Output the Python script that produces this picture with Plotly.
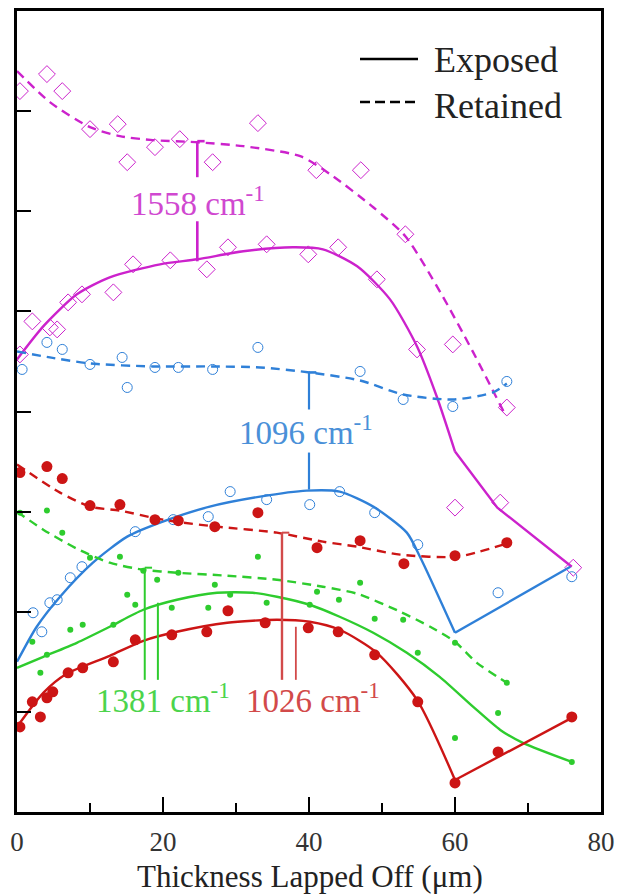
import plotly.graph_objects as go

# ---------------- data ----------------
# 1558 cm-1 (magenta, open diamonds)
mag_exp_x = [0.4, 2.1, 4.5, 5.5, 7.0, 8.9, 13.2, 15.9, 21.0, 26.0, 28.9, 34.2, 39.9, 44.0, 49.3, 54.8, 60.0, 66.2, 76.2]
mag_exp_y = [4.57, 4.90, 4.84, 4.82, 5.09, 5.17, 5.19, 5.47, 5.51, 5.42, 5.64, 5.67, 5.57, 5.64, 5.32, 4.62, 3.04, 3.09, 2.44]
mag_ret_x = [0.4, 4.1, 6.2, 10.0, 13.8, 15.1, 18.9, 22.3, 26.8, 33.0, 41.0, 47.1, 53.2, 59.7, 67.1]
mag_ret_y = [7.20, 7.37, 7.20, 6.82, 6.87, 6.49, 6.64, 6.72, 6.49, 6.88, 6.41, 6.41, 5.77, 4.67, 4.04]
mag_exp_fit_x = [0, 3.6, 8.2, 12.7, 19.6, 24.7, 31.0, 37.8, 41.9, 46.6, 51.1, 54.8, 57.5, 60.0]
mag_exp_fit_y = [4.52, 4.85, 5.17, 5.34, 5.47, 5.52, 5.60, 5.64, 5.62, 5.45, 5.12, 4.65, 4.15, 3.60]
mag_exp_tail_x = [60.0, 65.8, 76.0]
mag_exp_tail_y = [3.60, 3.04, 2.45]
mag_ret_fit_x = [0, 4.5, 10.0, 14.1, 18.6, 24.4, 31.0, 38.8, 42.9, 48.8, 53.2, 58.0, 62.5, 67.0]
mag_ret_fit_y = [7.40, 7.09, 6.84, 6.75, 6.71, 6.69, 6.65, 6.55, 6.37, 6.04, 5.75, 5.19, 4.59, 3.95]

# 1096 cm-1 (blue, open circles)
blu_exp_x = [2.2, 3.4, 4.5, 5.5, 7.3, 8.9, 16.2, 21.4, 26.2, 29.2, 34.2, 40.1, 44.2, 49.0, 54.9, 65.9, 76.0]
blu_exp_y = [1.99, 1.80, 2.09, 2.12, 2.34, 2.45, 2.80, 2.92, 2.95, 3.20, 3.12, 3.07, 3.20, 2.99, 2.67, 2.19, 2.35]
blu_ret_x = [0.7, 4.1, 6.2, 10.0, 14.4, 15.1, 18.9, 22.1, 26.8, 33.0, 47.0, 52.9, 59.7, 67.1]
blu_ret_y = [4.42, 4.69, 4.62, 4.47, 4.54, 4.24, 4.44, 4.44, 4.42, 4.64, 4.40, 4.12, 4.05, 4.30]
blu_exp_fit_x = [0, 2.7, 5.9, 10.4, 15.1, 19.6, 26.4, 33.3, 39.7, 44.2, 48.8, 53.4, 55.2, 60.0]
blu_exp_fit_y = [1.50, 1.85, 2.15, 2.49, 2.75, 2.89, 3.05, 3.15, 3.21, 3.20, 3.05, 2.79, 2.55, 1.79]
blu_exp_tail_x = [60.0, 75.8]
blu_exp_tail_y = [1.79, 2.45]
blu_ret_fit_x = [0, 4.5, 10.0, 18.6, 26.8, 33.3, 40.1, 47.0, 52.9, 59.7, 65.2, 67.1]
blu_ret_fit_y = [4.60, 4.54, 4.48, 4.45, 4.45, 4.44, 4.39, 4.31, 4.17, 4.12, 4.19, 4.28]

# 1026 cm-1 (red, filled circles)
red_exp_x = [0.4, 2.1, 3.2, 4.1, 4.9, 7.0, 9.0, 13.2, 16.2, 21.2, 26.0, 28.9, 34.0, 39.9, 44.0, 49.0, 54.9, 60.0, 65.9, 76.0]
red_exp_y = [0.85, 1.10, 0.95, 1.14, 1.20, 1.39, 1.44, 1.50, 1.72, 1.77, 1.80, 2.01, 1.89, 1.84, 1.80, 1.57, 1.10, 0.29, 0.60, 0.95]
red_ret_x = [0.4, 4.1, 6.2, 10.0, 14.1, 18.9, 22.1, 27.1, 33.0, 41.1, 47.0, 53.0, 60.0, 67.1]
red_ret_y = [3.39, 3.45, 3.33, 3.06, 3.07, 2.92, 2.91, 2.85, 2.99, 2.64, 2.71, 2.48, 2.56, 2.69]
red_exp_fit_x = [0, 3.6, 6.8, 12.7, 17.3, 21.9, 28.8, 35.6, 40.1, 44.2, 49.3, 54.8, 60.0]
red_exp_fit_y = [0.85, 1.19, 1.38, 1.56, 1.71, 1.80, 1.89, 1.92, 1.90, 1.82, 1.59, 1.12, 0.32]
red_exp_tail_x = [60.0, 76.0]
red_exp_tail_y = [0.32, 0.94]
red_ret_fit_x = [0, 5.9, 10.0, 14.1, 19.2, 22.7, 27.4, 35.6, 41.9, 46.6, 52.5, 60.3, 66.6]
red_ret_fit_y = [3.47, 3.19, 3.05, 3.01, 2.93, 2.89, 2.85, 2.79, 2.70, 2.65, 2.57, 2.55, 2.67]

# 1381 cm-1 (green, small dots)
grn_exp_x = [2.1, 3.2, 4.1, 7.3, 9.0, 13.2, 15.1, 16.2, 21.2, 26.2, 29.2, 34.2, 40.1, 44.1, 49.0, 54.9, 60.0, 65.9, 76.0]
grn_exp_y = [1.70, 1.39, 1.57, 1.82, 1.87, 1.87, 2.17, 2.07, 2.04, 2.04, 2.17, 2.09, 2.07, 2.12, 1.93, 1.59, 0.74, 0.99, 0.50]
grn_ret_x = [0.4, 4.1, 6.2, 10.0, 14.1, 17.3, 19.2, 22.1, 27.1, 33.0, 41.1, 47.0, 52.9, 60.0, 67.1]
grn_ret_y = [2.99, 3.01, 2.79, 2.54, 2.55, 2.41, 2.32, 2.39, 2.27, 2.55, 2.20, 2.29, 1.92, 1.69, 1.29]
grn_exp_fit_x = [0, 3.6, 8.2, 12.7, 17.3, 21.9, 27.4, 32.3, 35.6, 40.1, 44.2, 48.8, 53.4, 57.9, 62.5, 66.2, 69.3, 76.0]
grn_exp_fit_y = [1.44, 1.55, 1.69, 1.85, 2.02, 2.12, 2.19, 2.19, 2.15, 2.07, 1.95, 1.79, 1.59, 1.35, 1.05, 0.82, 0.69, 0.50]
grn_ret_fit_x = [0, 3.6, 8.2, 12.7, 17.3, 21.9, 28.8, 35.6, 41.9, 46.6, 52.5, 56.6, 60.0, 63.0, 67.1]
grn_ret_fit_y = [3.00, 2.82, 2.63, 2.49, 2.42, 2.39, 2.36, 2.32, 2.25, 2.18, 2.00, 1.85, 1.70, 1.49, 1.29]

x_tick_vals = [0, 20, 40, 60, 80]
x_tick_text = ["0", "20", "40", "60", "80"]
legend_names = ["Exposed", "Retained"]
band_labels = ["1558 cm<sup>-1</sup>", "1096 cm<sup>-1</sup>", "1381 cm<sup>-1</sup>", "1026 cm<sup>-1</sup>"]

# ---------------- styles ----------------
MAG, MAG_T = "#CC22CC", "#D048D0"
BLU, BLU_T = "#2F80D8", "#4A90D8"
RED, RED_T = "#CC1515", "#D24A4A"
GRN, GRN_T = "#2ECC2E", "#4CD44C"
FONT = "Liberation Serif, Times New Roman, serif"
LW = 2.4
DASH = "9px,6px"
SMOOTH = 0.7

fig = go.Figure()

def curve(x, y, color, dash="solid", shape="spline"):
    line = dict(color=color, width=LW, dash=dash, shape=shape)
    if shape == "spline":
        line["smoothing"] = SMOOTH
    fig.add_trace(go.Scatter(x=x, y=y, mode="lines", line=line, showlegend=False, hoverinfo="skip"))

def pts(x, y, color, symbol, size, lw=1.2):
    fig.add_trace(go.Scatter(x=x, y=y, mode="markers", showlegend=False,
                             marker=dict(symbol=symbol, size=size, color=color, line=dict(color=color, width=lw))))

# magenta
pts(mag_exp_x, mag_exp_y, MAG, "diamond-open", 13, 1.0)
pts(mag_ret_x, mag_ret_y, MAG, "diamond-open", 13, 1.0)
curve(mag_exp_fit_x, mag_exp_fit_y, MAG)
curve(mag_exp_tail_x, mag_exp_tail_y, MAG, shape="linear")
curve(mag_ret_fit_x, mag_ret_fit_y, MAG, dash=DASH)
# blue
pts(blu_exp_x, blu_exp_y, BLU, "circle-open", 10, 1.0)
pts(blu_ret_x, blu_ret_y, BLU, "circle-open", 10, 1.0)
curve(blu_exp_fit_x, blu_exp_fit_y, BLU)
curve(blu_exp_tail_x, blu_exp_tail_y, BLU, shape="linear")
curve(blu_ret_fit_x, blu_ret_fit_y, BLU, dash=DASH)
# green
pts(grn_exp_x, grn_exp_y, GRN, "circle", 6, 0)
pts(grn_ret_x, grn_ret_y, GRN, "circle", 6, 0)
curve(grn_exp_fit_x, grn_exp_fit_y, GRN)
curve(grn_ret_fit_x, grn_ret_fit_y, GRN, dash=DASH)
# red
pts(red_exp_x, red_exp_y, RED, "circle", 11, 0)
pts(red_ret_x, red_ret_y, RED, "circle", 11, 0)
curve(red_exp_fit_x, red_exp_fit_y, RED)
curve(red_exp_tail_x, red_exp_tail_y, RED, shape="linear")
curve(red_ret_fit_x, red_ret_fit_y, RED, dash=DASH)

# ---------------- brackets and labels (annotation layout) ----------------
shapes = []
def vline(x, y0, y1, color, w=2.6):
    shapes.append(dict(type="line", xref="x", yref="y", x0=x, x1=x, y0=y0, y1=y1,
                       line=dict(color=color, width=w)))
def cap(x, y, color, w=2.6):
    shapes.append(dict(type="line", xref="x", yref="y", x0=x, x1=x + 1.0, y0=y, y1=y,
                       line=dict(color=color, width=w)))

vline(24.7, 6.70, 6.34, MAG); vline(24.7, 5.90, 5.50, MAG); cap(24.7, 6.70, MAG)
vline(40.0, 4.39, 4.02, BLU, 2.2); vline(40.0, 3.59, 3.22, BLU, 2.2); cap(40.0, 4.39, BLU)
vline(17.5, 2.44, 1.32, GRN, 2.0); vline(19.3, 2.09, 1.32, GRN, 2.0); cap(17.5, 2.44, GRN, 2.0)
vline(36.3, 2.79, 1.32, RED_T, 2.4); vline(38.2, 1.85, 1.32, RED_T, 1.8); cap(36.3, 2.79, RED_T, 2.0)

annos = []
def label(text, x, y, color, size=33):
    annos.append(dict(text=text, x=x, y=y, xref="x", yref="y", showarrow=False,
                      xanchor="center", yanchor="middle", font=dict(family=FONT, size=size, color=color)))
label(band_labels[0], 24.8, 6.10, MAG_T)
label(band_labels[1], 39.6, 3.82, BLU_T)
label(band_labels[2], 20.0, 1.14, GRN_T)
label(band_labels[3], 40.6, 1.14, RED_T)

# manual legend (paper coords from pixel positions)
L, R, T, B = 17, 601, 11, 812
def px(xp): return (xp - L) / (R - L)
def py(yp): return (B - yp) / (B - T)
shapes.append(dict(type="line", xref="paper", yref="paper", x0=px(360), x1=px(418), y0=py(59), y1=py(59),
                   line=dict(color="black", width=2.6)))
shapes.append(dict(type="line", xref="paper", yref="paper", x0=px(360), x1=px(420), y0=py(102), y1=py(102),
                   line=dict(color="black", width=2.6, dash="10px,5px")))
for name, yp in zip(legend_names, [60, 106]):
    annos.append(dict(text=name, x=px(432), y=py(yp), xref="paper", yref="paper", showarrow=False,
                      xanchor="left", yanchor="middle", font=dict(family=FONT, size=36, color="#222")))
# axis title
annos.append(dict(text="Thickness Lapped Off (\u03bcm)", x=px(310), y=py(876), xref="paper", yref="paper",
                  showarrow=False, xanchor="center", yanchor="middle", font=dict(family=FONT, size=31, color="#222")))

fig.update_layout(
    width=624, height=894,
    margin=dict(l=L, r=624 - R, t=T, b=894 - B, pad=0, autoexpand=False),
    paper_bgcolor="white", plot_bgcolor="white",
    showlegend=False, shapes=shapes, annotations=annos,
    font=dict(family=FONT, color="#222"),
)
fig.update_xaxes(range=[0, 80], tickvals=x_tick_vals, ticktext=x_tick_text, ticks="inside", ticklen=15,
                 tickwidth=2, tickcolor="black", showline=True, linecolor="black", linewidth=2.6, mirror=True,
                 showgrid=False, zeroline=False, tickfont=dict(family=FONT, size=27, color="#333"),
                 ticklabelstandoff=4, automargin=False,
                 minor=dict(dtick=10, tick0=0, ticks="inside", ticklen=9, tickwidth=2, tickcolor="black", showgrid=False))
fig.update_yaxes(range=[0, 8], dtick=1, tick0=0, ticks="inside", ticklen=14, tickwidth=2, tickcolor="black",
                 showticklabels=False, showline=True, linecolor="black", linewidth=2.6, mirror=True,
                 showgrid=False, zeroline=False, automargin=False)

# remove the browser's default 8px body margin so the 624x894 figure fills the window exactly
fig.write_html("out.html", config={"displayModeBar": False},
               post_script="document.body.style.margin='0';")
